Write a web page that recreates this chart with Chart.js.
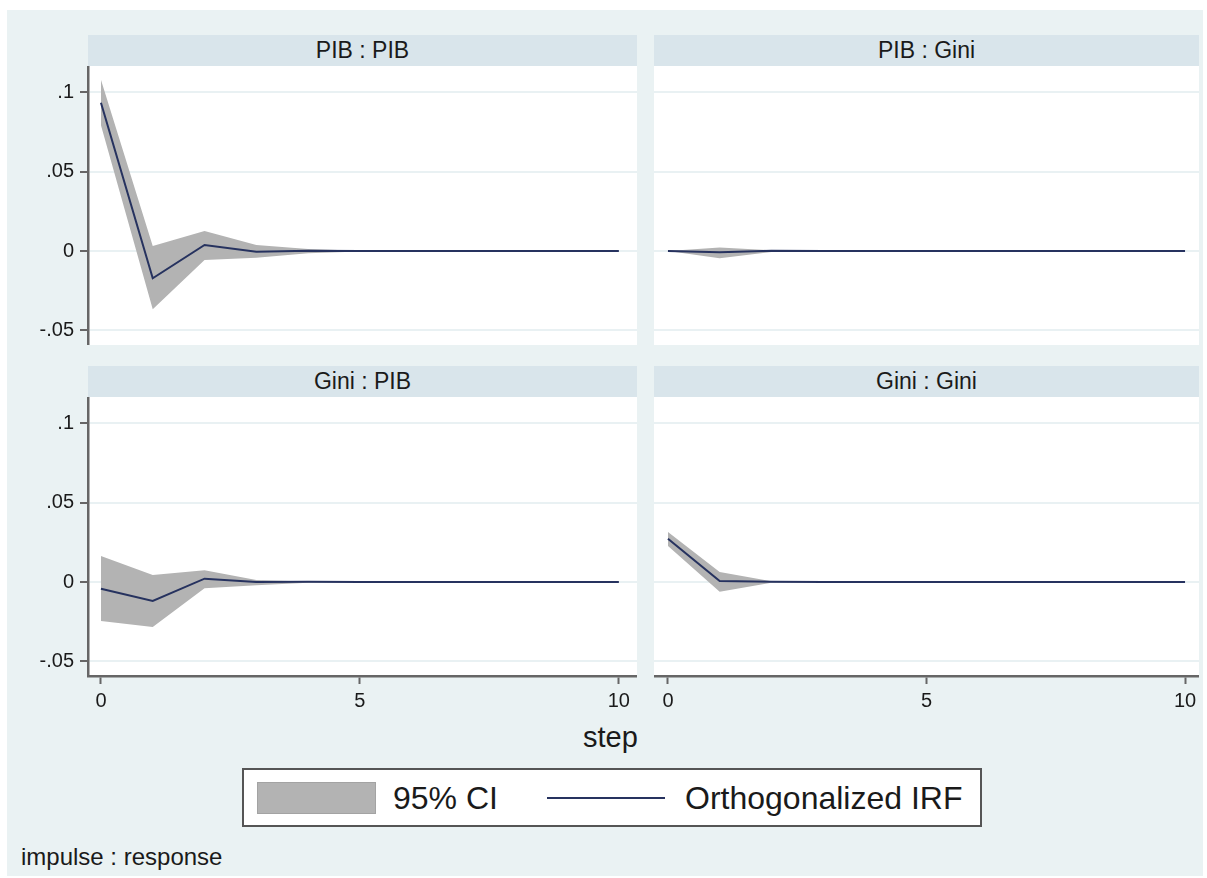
<!DOCTYPE html>
<html>
<head>
<meta charset="utf-8">
<script src="https://cdn.jsdelivr.net/npm/chart.js@4"></script>
<style>
    body { margin: 0; background: #ffffff; font-family: "Liberation Sans", Arial, sans-serif; }
    #frame { position: absolute; left: 7px; top: 10px; width: 1196px; height: 866px; background: #eaf2f3; }
    .strip { position: absolute; background: #d9e5eb; color: #1a1a1a; font-size: 23px; text-align: center; line-height: 31px; }
    .panel { position: absolute; }
    .txt { position: absolute; color: #1a1a1a; white-space: nowrap; }
</style>
</head>
<body>
<div id="frame"></div>

<div class="strip" style="left:88px;top:35px;width:549px;height:31px;">PIB : PIB</div>
<div class="strip" style="left:654px;top:35px;width:545px;height:31px;">PIB : Gini</div>
<div class="strip" style="left:88px;top:366px;width:549px;height:31px;">Gini : PIB</div>
<div class="strip" style="left:654px;top:366px;width:545px;height:31px;">Gini : Gini</div>

<canvas id="c1" class="panel" style="left:20px;top:66px;" width="617" height="279"></canvas>
<canvas id="c2" class="panel" style="left:654px;top:66px;" width="545" height="279"></canvas>
<canvas id="c3" class="panel" style="left:20px;top:397px;" width="617" height="320"></canvas>
<canvas id="c4" class="panel" style="left:654px;top:397px;" width="545" height="320"></canvas>

<div class="txt" style="left:583px;top:721px;font-size:29px;">step</div>

<div style="position:absolute;left:242px;top:768px;width:736px;height:55px;background:#fff;border:2px solid #555;">
    <div style="position:absolute;left:13px;top:12px;width:117px;height:30px;background:#b3b3b3;border:1px solid #a3a3a3;"></div>
    <div class="txt" style="left:149px;top:10px;font-size:32px;">95% CI</div>
    <div style="position:absolute;left:303px;top:27px;width:118px;height:2px;background:#26325f;"></div>
    <div class="txt" style="left:441px;top:10px;font-size:32px;">Orthogonalized IRF</div>
</div>

<div class="txt" style="left:21px;top:843px;font-size:24px;">impulse : response</div>

<script>
const steps = [0, 1, 2, 3, 4, 5, 6, 7, 8, 9, 10];
const yTicks = [-0.05, 0, 0.05, 0.1];
const xTicks = [0, 5, 10];

// impulse : response = PIB : PIB
const pibPibIrf = [0.0935, -0.0172, 0.0038, -0.0004, 0.0002, 0, 0, 0, 0, 0, 0];
const pibPibLo  = [0.0794, -0.0368, -0.0057, -0.0042, -0.0015, -0.0003, 0, 0, 0, 0, 0];
const pibPibHi  = [0.108, 0.0032, 0.0126, 0.0038, 0.0012, 0.0002, 0, 0, 0, 0, 0];

// PIB : Gini
const pibGiniIrf = [0, -0.0008, 0.0001, 0, 0, 0, 0, 0, 0, 0, 0];
const pibGiniLo  = [0, -0.0045, -0.0007, -0.0001, 0, 0, 0, 0, 0, 0, 0];
const pibGiniHi  = [0, 0.0022, 0.0005, 0.0001, 0, 0, 0, 0, 0, 0, 0];

// Gini : PIB
const giniPibIrf = [-0.0042, -0.012, 0.0021, 0, 0.0001, 0, 0, 0, 0, 0, 0];
const giniPibLo  = [-0.0246, -0.0284, -0.004, -0.0021, -0.0005, -0.0001, 0, 0, 0, 0, 0];
const giniPibHi  = [0.0164, 0.0044, 0.0074, 0.0013, 0.0003, 0.0001, 0, 0, 0, 0, 0];

// Gini : Gini
const giniGiniIrf = [0.0273, 0.0006, 0.0001, 0, 0, 0, 0, 0, 0, 0, 0];
const giniGiniLo  = [0.0227, -0.0061, -0.0005, 0, 0, 0, 0, 0, 0, 0, 0];
const giniGiniHi  = [0.0315, 0.0063, 0.0005, 0, 0, 0, 0, 0, 0, 0, 0];

const fillGrey = '#b3b3b3';
const lineNavy = '#26325f';
const axisGrey = '#666666';
const gridCol = '#e9f1f3';
const font = 'Liberation Sans';

const whiteArea = {
    id: 'whiteArea',
    beforeDraw(chart) {
        const a = chart.chartArea;
        const ctx = chart.ctx;
        ctx.save();
        ctx.fillStyle = '#ffffff';
        ctx.fillRect(a.left, a.top, a.right - a.left, a.bottom - a.top);
        ctx.restore();
    }
};

function pts(arr) {
    return steps.map((s, i) => ({ x: s, y: arr[i] }));
}

function yLabel(v) {
    if (Math.abs(v) < 1e-9) return '0';
    return String(v).replace('0.', '.');
}

function makePanel(id, irf, lo, hi, showY, showX, xMin, xMax) {
    return new Chart(document.getElementById(id), {
        type: 'line',
        data: {
            datasets: [{
                label: 'Orthogonalized IRF',
                data: pts(irf),
                borderColor: lineNavy,
                borderWidth: 2,
                pointRadius: 0,
                fill: false,
                order: 0
            }, {
                label: 'upper',
                data: pts(hi),
                borderWidth: 0,
                borderColor: 'rgba(0,0,0,0)',
                backgroundColor: fillGrey,
                pointRadius: 0,
                fill: '+1',
                order: 1
            }, {
                label: 'lower',
                data: pts(lo),
                borderWidth: 0,
                borderColor: 'rgba(0,0,0,0)',
                pointRadius: 0,
                fill: false,
                order: 2
            }]
        },
        options: {
            responsive: false,
            animation: false,
            layout: { padding: 0 },
            plugins: { legend: { display: false }, tooltip: { enabled: false } },
            scales: {
                x: {
                    type: 'linear',
                    min: xMin,
                    max: xMax,
                    display: showX,
                    afterBuildTicks: s => { s.ticks = xTicks.map(v => ({ value: v })); },
                    afterFit: s => {
                        if (showX) s.height = 41;
                        s.paddingLeft = 0;
                        s.paddingRight = 0;
                    },
                    grid: { drawOnChartArea: false, tickLength: 8, tickColor: axisGrey, tickWidth: 2 },
                    border: { color: axisGrey, width: 2.5 },
                    ticks: { color: '#1a1a1a', font: { family: font, size: 20 }, padding: 5, maxRotation: 0 }
                },
                y: {
                    min: -0.0593,
                    max: 0.1167,
                    afterBuildTicks: s => { s.ticks = yTicks.map(v => ({ value: v })); },
                    afterFit: s => {
                        s.width = showY ? 68 : 0;
                        s.paddingTop = 0;
                        s.paddingBottom = 0;
                    },
                    grid: {
                        color: gridCol,
                        lineWidth: 2,
                        drawTicks: showY,
                        tickLength: 8,
                        tickColor: axisGrey,
                        tickWidth: 2
                    },
                    border: { display: showY, color: axisGrey, width: 2.5 },
                    ticks: {
                        display: showY,
                        color: '#1a1a1a',
                        font: { family: font, size: 20 },
                        padding: 6,
                        callback: v => yLabel(v)
                    }
                }
            }
        },
        plugins: [whiteArea]
    });
}

makePanel('c1', pibPibIrf, pibPibLo, pibPibHi, true, false, -0.25, 10.35);
makePanel('c2', pibGiniIrf, pibGiniLo, pibGiniHi, false, false, -0.27, 10.27);
makePanel('c3', giniPibIrf, giniPibLo, giniPibHi, true, true, -0.25, 10.35);
makePanel('c4', giniGiniIrf, giniGiniLo, giniGiniHi, false, true, -0.27, 10.27);
</script>
</body>
</html>
